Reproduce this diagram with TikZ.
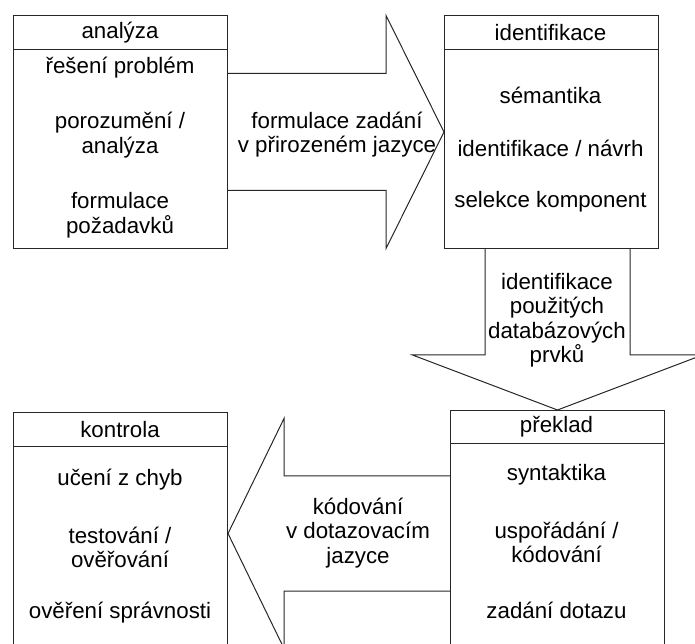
\documentclass[tikz,border=0pt]{standalone}
\usepackage{fontspec}
\setmainfont{Liberation Sans}
\begin{document}
\begin{tikzpicture}[x=1bp,y=1bp,
  line/.style={draw=black!85, line width=1bp},
  panel/.style={line, rectangle, inner sep=0pt, anchor=north west, minimum width=214bp},
  txt/.style={font=\fontsize{22.3bp}{24.5bp}\selectfont, align=center, inner sep=0pt, text=black},
]
\useasboundingbox (0,0) rectangle (695,644);
\clip (0,0) rectangle (695,644);

% four phase panels
\node[panel, minimum height=233bp] (ana) at (13,629) {};
\node[panel, minimum height=233bp] (idf) at (444,629) {};
\node[panel, minimum height=242bp] (kon) at (13,232) {};
\node[panel, minimum height=246bp] (prek) at (450,234) {};

% header separators
\draw[line] ([yshift=-35bp]ana.north west) -- ([yshift=-35bp]ana.north east);
\draw[line] ([yshift=-35bp]idf.north west) -- ([yshift=-35bp]idf.north east);
\draw[line] ([yshift=-35bp]kon.north west) -- ([yshift=-35bp]kon.north east);
\draw[line] ([yshift=-34bp]prek.north west) -- ([yshift=-34bp]prek.north east);

% block arrows between the panels
\draw[line] ([yshift=58.5bp]ana.east) -| ([xshift=-58bp,yshift=116.5bp]idf.west)
  -- (idf.west) -- ([xshift=-58bp,yshift=-116.5bp]idf.west) |- ([yshift=-58.5bp]ana.east);

\coordinate (dtop) at (prek.north |- idf.south);
\draw[line] ([xshift=-72.5bp]dtop) |- ([xshift=-145bp,yshift=55bp]prek.north)
  -- (prek.north) -- ([xshift=145bp,yshift=55bp]prek.north) -| ([xshift=72.5bp]dtop);

\draw[line] ([yshift=57.5bp]prek.west) -| ([xshift=56bp,yshift=115bp]kon.east)
  -- (kon.east) -- ([xshift=56bp,yshift=-115bp]kon.east) |- ([yshift=-57.5bp]prek.west);

% panel texts
\node[txt] (ana-t) at (120,611) {analýza};
\node[txt] (ana-1) at (120,576) {řešení problém};
\node[txt] (ana-2) at (120,509) {porozumění /\\analýza};
\node[txt] (ana-3) at (120,429) {formulace\\požadavků};

\node[txt] (idf-t) at (550.5,611) {identifikace};
\node[txt] (idf-1) at (550.5,549) {sémantika};
\node[txt] (idf-2) at (550.5,496) {identifikace / návrh};
\node[txt] (idf-3) at (550.5,442) {selekce komponent};

\node[txt] (kon-t) at (120,214) {kontrola};
\node[txt] (kon-1) at (120,164) {učení z chyb};
\node[txt] (kon-2) at (120,96.5) {testování /\\ověřování};
\node[txt] (kon-3) at (120,31) {ověření správnosti};

\node[txt] (prek-t) at (556.5,217) {překlad};
\node[txt] (prek-1) at (556.5,169) {syntaktika};
\node[txt] (prek-2) at (556.5,101.5) {uspořádání /\\kódování};
\node[txt] (prek-3) at (556.5,34) {zadání dotazu};

% arrow labels
\node[txt] (ra-l) at (337,509.5) {formulace zadání\\v přirozeném jazyce};
\node[txt] (da-l) at (557,324) {identifikace\\použitých\\databázových\\prvků};
\node[txt] (la-l) at (358,111) {kódování\\v dotazovacím\\jazyce};
\end{tikzpicture}
\end{document}
